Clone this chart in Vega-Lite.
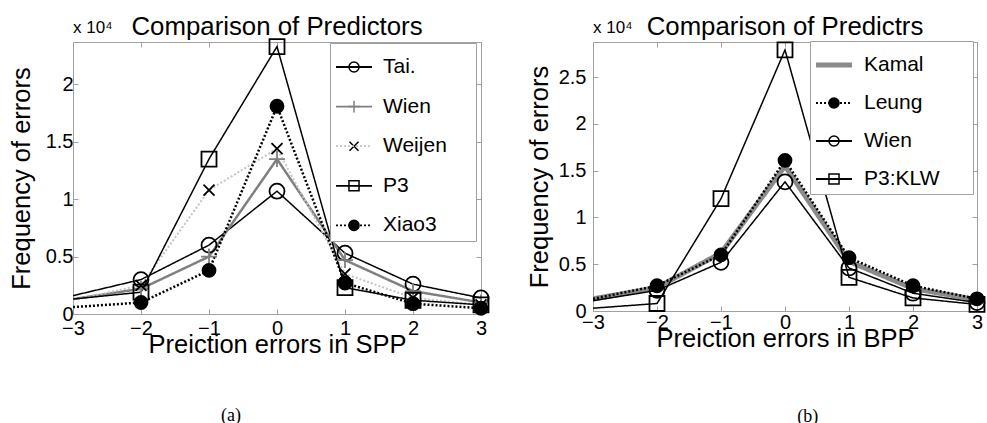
{
  "$schema": "https://vega.github.io/schema/vega-lite/v6.json",
  "padding": {"left": 8, "top": 2, "right": 3, "bottom": 0},
  "background": "white",
  "spacing": 32,
  "resolve": {
    "scale": {"color": "independent", "strokeDash": "independent", "strokeWidth": "independent", "shape": "independent", "stroke": "independent", "fill": "independent", "size": "independent"},
    "legend": {"color": "independent", "strokeDash": "independent", "strokeWidth": "independent", "shape": "independent", "stroke": "independent", "fill": "independent", "size": "independent"}
  },
  "config": {
    "font": "Liberation Sans",
    "view": {"stroke": "#a0a0a0", "strokeWidth": 1},
    "axis": {
      "labelFont": "Liberation Sans", "labelFontSize": 20, "labelColor": "black",
      "titleFont": "Liberation Sans", "titleFontSize": 25.5, "titleFontWeight": "normal", "titleColor": "black",
      "domain": false, "grid": false, "tickColor": "#a0a0a0", "tickSize": -5, "tickWidth": 1
    },
    "title": {"font": "Liberation Sans", "fontSize": 25.8, "fontWeight": "normal", "color": "black"}
  },
  "hconcat": [
    {
      "title": {"text": "(a)", "orient": "bottom", "anchor": "middle", "font": "Liberation Serif", "fontSize": 18, "fontWeight": "normal", "offset": 49, "dx": -20},
      "vconcat": [
        {
          "width": 408, "height": 272,
          "title": {"text": ["", "Comparison of Predictors"], "lineHeight": 11, "anchor": "middle", "offset": -21.5},
          "data": {"values": [
            {"x": -3, "y": 1600, "s": "Tai."}, {"x": -2, "y": 3000, "s": "Tai."}, {"x": -1, "y": 6000, "s": "Tai."}, {"x": 0, "y": 10700, "s": "Tai."}, {"x": 1, "y": 5300, "s": "Tai."}, {"x": 2, "y": 2600, "s": "Tai."}, {"x": 3, "y": 1400, "s": "Tai."},
            {"x": -3, "y": 1300, "s": "Wien"}, {"x": -2, "y": 2200, "s": "Wien"}, {"x": -1, "y": 5000, "s": "Wien"}, {"x": 0, "y": 13500, "s": "Wien"}, {"x": 1, "y": 4700, "s": "Wien"}, {"x": 2, "y": 2000, "s": "Wien"}, {"x": 3, "y": 1000, "s": "Wien"},
            {"x": -3, "y": 1200, "s": "Weijen"}, {"x": -2, "y": 2500, "s": "Weijen"}, {"x": -1, "y": 10800, "s": "Weijen"}, {"x": 0, "y": 14400, "s": "Weijen"}, {"x": 1, "y": 3500, "s": "Weijen"}, {"x": 2, "y": 1400, "s": "Weijen"}, {"x": 3, "y": 800, "s": "Weijen"},
            {"x": -3, "y": 1300, "s": "P3"}, {"x": -2, "y": 1900, "s": "P3"}, {"x": -1, "y": 13500, "s": "P3"}, {"x": 0, "y": 23300, "s": "P3"}, {"x": 1, "y": 2300, "s": "P3"}, {"x": 2, "y": 1200, "s": "P3"}, {"x": 3, "y": 800, "s": "P3"},
            {"x": -3, "y": 600, "s": "Xiao3"}, {"x": -2, "y": 1000, "s": "Xiao3"}, {"x": -1, "y": 3800, "s": "Xiao3"}, {"x": 0, "y": 18100, "s": "Xiao3"}, {"x": 1, "y": 2700, "s": "Xiao3"}, {"x": 2, "y": 900, "s": "Xiao3"}, {"x": 3, "y": 500, "s": "Xiao3"}
          ]},
          "layer": [
            {
              "mark": {"type": "line", "strokeCap": "butt", "clip": true},
              "encoding": {
                "x": {"field": "x", "type": "quantitative", "scale": {"domain": [-3, 3], "nice": false},
                      "axis": {"orient": "bottom", "values": [-3, -2, -1, 0, 1, 2, 3], "title": "Preiction errors in SPP", "labelPadding": 9, "titlePadding": -6, "labelFlush": false}},
                "y": {"field": "y", "type": "quantitative", "scale": {"domain": [0, 23700], "nice": false},
                      "axis": {"orient": "left", "values": [0, 5000, 10000, 15000, 20000], "labelExpr": "datum.value / 10000", "title": "Frequency of errors", "labelPadding": 5, "titlePadding": 11, "labelFlush": false}},
                "color": {"field": "s", "type": "nominal", "sort": null,
                          "scale": {"type": "ordinal", "range": ["black", "#808080", "#c4c4c4", "black", "black"]},
                          "legend": {"orient": "none", "legendX": 257, "legendY": 1, "zindex": 1, "title": null,
                                     "padding": 5, "rowPadding": 10.6, "symbolType": "stroke", "symbolSize": 1296, "symbolStrokeWidth": 1.8, "labelOffset": 10,
                                     "labelFont": "Liberation Sans", "labelFontSize": 21, "labelColor": "black"}},
                "strokeDash": {"field": "s", "type": "nominal", "sort": null, "scale": {"type": "ordinal", "range": [[1, 0], [1, 0], [2, 2], [1, 0], [2, 2]]}},
                "strokeWidth": {"field": "s", "type": "nominal", "scale": {"type": "ordinal", "domain": ["Xiao3", "P3", "Weijen", "Wien", "Tai."], "range": [2.5, 1.5, 2, 2.5, 1.5]}, "legend": null}
              }
            },
            {
              "transform": [{"filter": "datum.x > -3"}],
              "mark": {"type": "point", "filled": true, "opacity": 1, "strokeWidth": 1.8},
              "encoding": {
                "x": {"field": "x", "type": "quantitative", "axis": {"orient": "top", "values": [-3, -2, -1, 0, 1, 2, 3], "labels": false, "title": null}},
                "y": {"field": "y", "type": "quantitative", "axis": {"orient": "right", "values": [0, 5000, 10000, 15000, 20000], "labels": false, "title": null}},
                "shape": {"field": "s", "type": "nominal",
                          "scale": {"domain": ["Tai.", "Wien", "Weijen", "P3", "Xiao3"],
                                    "range": ["M0.28,0A0.28,0.28,0,1,1,-0.28,0A0.28,0.28,0,1,1,0.28,0Z", "M-0.33,0H0.33M0,-0.33V0.33", "M-0.25,-0.25L0.25,0.25M0.25,-0.25L-0.25,0.25", "M-0.28,-0.28H0.28V0.28H-0.28Z", "M0.28,0A0.28,0.28,0,1,1,-0.28,0A0.28,0.28,0,1,1,0.28,0Z"]},
                          "legend": {"orient": "none", "legendX": 257, "legendY": 1, "zindex": 0, "title": null, "fillColor": "white", "strokeColor": "#a0a0a0",
                                     "padding": 5, "rowPadding": 10.6, "symbolSize": 1296, "labelOffset": 10,
                                     "labelFont": "Liberation Sans", "labelFontSize": 21, "labelOpacity": 0, "labelExpr": "datum.label + 'nn'"}},
                "stroke": {"field": "s", "type": "nominal", "scale": {"domain": ["Tai.", "Wien", "Weijen", "P3", "Xiao3"], "range": ["black", "#808080", "black", "black", "black"]},
                           "legend": {"orient": "none", "legendX": 257, "legendY": 1, "zindex": 0, "title": null, "fillColor": "white", "strokeColor": "#a0a0a0",
                                     "padding": 5, "rowPadding": 10.6, "symbolSize": 1296, "labelOffset": 10,
                                     "labelFont": "Liberation Sans", "labelFontSize": 21, "labelOpacity": 0, "labelExpr": "datum.label + 'nn'"}},
                "fill": {"field": "s", "type": "nominal", "scale": {"domain": ["Tai.", "Wien", "Weijen", "P3", "Xiao3"], "range": ["transparent", "transparent", "transparent", "transparent", "black"]},
                           "legend": {"orient": "none", "legendX": 257, "legendY": 1, "zindex": 0, "title": null, "fillColor": "white", "strokeColor": "#a0a0a0",
                                     "padding": 5, "rowPadding": 10.6, "symbolSize": 1296, "labelOffset": 10,
                                     "labelFont": "Liberation Sans", "labelFontSize": 21, "labelOpacity": 0, "labelExpr": "datum.label + 'nn'"}},
                "size": {"field": "s", "type": "nominal", "scale": {"type": "ordinal", "domain": ["Xiao3", "P3", "Weijen", "Wien", "Tai."], "range": [2156, 2870, 1936, 2351, 2870]}, "legend": null}
              }
            },
            {
              "data": {"values": [{"t": "x 10⁴"}]},
              "mark": {"type": "text", "align": "left", "baseline": "bottom", "dy": -5, "fontSize": 17, "font": "Liberation Sans", "color": "black"},
              "encoding": {
                "text": {"field": "t"},
                "x": {"datum": -3, "type": "quantitative", "axis": null},
                "y": {"datum": 23700, "type": "quantitative", "axis": null}
              }
            }
          ],
          "resolve": {"axis": {"x": "independent", "y": "independent"}}
        }
      ]
    },
    {
      "title": {"text": "(b)", "orient": "bottom", "anchor": "middle", "font": "Liberation Serif", "fontSize": 18, "fontWeight": "normal", "offset": 55.5, "dx": 50},
      "vconcat": [
        {
          "width": 384, "height": 269,
          "title": {"text": "Comparison of Predictrs", "anchor": "middle", "offset": -21.5},
          "data": {"values": [
            {"x": -3, "y": 1300, "s": "Kamal"}, {"x": -2, "y": 2500, "s": "Kamal"}, {"x": -1, "y": 6200, "s": "Kamal"}, {"x": 0, "y": 15500, "s": "Kamal"}, {"x": 1, "y": 5300, "s": "Kamal"}, {"x": 2, "y": 2400, "s": "Kamal"}, {"x": 3, "y": 1200, "s": "Kamal"},
            {"x": -3, "y": 1300, "s": "Leung"}, {"x": -2, "y": 2700, "s": "Leung"}, {"x": -1, "y": 6000, "s": "Leung"}, {"x": 0, "y": 16100, "s": "Leung"}, {"x": 1, "y": 5700, "s": "Leung"}, {"x": 2, "y": 2700, "s": "Leung"}, {"x": 3, "y": 1300, "s": "Leung"},
            {"x": -3, "y": 1100, "s": "Wien"}, {"x": -2, "y": 2200, "s": "Wien"}, {"x": -1, "y": 5200, "s": "Wien"}, {"x": 0, "y": 13800, "s": "Wien"}, {"x": 1, "y": 4600, "s": "Wien"}, {"x": 2, "y": 1900, "s": "Wien"}, {"x": 3, "y": 900, "s": "Wien"},
            {"x": -3, "y": 300, "s": "P3:KLW"}, {"x": -2, "y": 800, "s": "P3:KLW"}, {"x": -1, "y": 12000, "s": "P3:KLW"}, {"x": 0, "y": 27900, "s": "P3:KLW"}, {"x": 1, "y": 3600, "s": "P3:KLW"}, {"x": 2, "y": 1400, "s": "P3:KLW"}, {"x": 3, "y": 700, "s": "P3:KLW"}
          ]},
          "layer": [
            {
              "mark": {"type": "line", "strokeCap": "butt", "clip": true},
              "encoding": {
                "x": {"field": "x", "type": "quantitative", "scale": {"domain": [-3, 3], "nice": false},
                      "axis": {"orient": "bottom", "values": [-3, -2, -1, 0, 1, 2, 3], "title": "Preiction errors in BPP", "labelPadding": 6.5, "titlePadding": -6, "labelFlush": false}},
                "y": {"field": "y", "type": "quantitative", "scale": {"domain": [0, 28750], "nice": false},
                      "axis": {"orient": "left", "values": [0, 5000, 10000, 15000, 20000, 25000], "labelExpr": "datum.value / 10000", "title": "Frequency of errors", "labelPadding": 12, "titlePadding": 6, "labelFlush": false}},
                "color": {"field": "s", "type": "nominal", "sort": null,
                          "scale": {"type": "ordinal", "range": ["#8a8a8a", "black", "black", "black"]},
                          "legend": {"orient": "none", "legendX": 217, "legendY": -1, "zindex": 1, "title": null,
                                     "padding": 5, "rowPadding": 9, "symbolType": "stroke", "symbolSize": 1296, "symbolStrokeWidth": 1.8, "labelOffset": 11,
                                     "labelFont": "Liberation Sans", "labelFontSize": 21, "labelColor": "black"}},
                "strokeDash": {"field": "s", "type": "nominal", "sort": null, "scale": {"type": "ordinal", "range": [[1, 0], [2, 2], [1, 0], [1, 0]]}},
                "strokeWidth": {"field": "s", "type": "nominal", "scale": {"type": "ordinal", "domain": ["P3:KLW", "Wien", "Leung", "Kamal"], "range": [1.5, 1.5, 2.5, 5]}, "legend": null}
              }
            },
            {
              "transform": [{"filter": "datum.x > -3 && datum.s !== 'Kamal'"}],
              "mark": {"type": "point", "filled": true, "opacity": 1, "strokeWidth": 1.8},
              "encoding": {
                "x": {"field": "x", "type": "quantitative", "axis": {"orient": "top", "values": [-3, -2, -1, 0, 1, 2, 3], "labels": false, "title": null}},
                "y": {"field": "y", "type": "quantitative", "axis": {"orient": "right", "values": [0, 5000, 10000, 15000, 20000, 25000], "labels": false, "title": null}},
                "shape": {"field": "s", "type": "nominal",
                          "scale": {"domain": ["Kamal", "Leung", "Wien", "P3:KLW"],
                                    "range": ["M-1,-0.14H1V0.14H-1Z", "M0.28,0A0.28,0.28,0,1,1,-0.28,0A0.28,0.28,0,1,1,0.28,0Z", "M0.28,0A0.28,0.28,0,1,1,-0.28,0A0.28,0.28,0,1,1,0.28,0Z", "M-0.28,-0.28H0.28V0.28H-0.28Z"]},
                          "legend": {"orient": "none", "legendX": 217, "legendY": -1, "zindex": 0, "title": null, "fillColor": "white", "strokeColor": "#a0a0a0",
                                     "padding": 5, "rowPadding": 9, "symbolSize": 1296, "labelOffset": 11,
                                     "labelFont": "Liberation Sans", "labelFontSize": 21, "labelOpacity": 0, "labelExpr": "datum.label + 'nni'"}},
                "stroke": {"field": "s", "type": "nominal", "scale": {"domain": ["Kamal", "Leung", "Wien", "P3:KLW"], "range": ["transparent", "black", "black", "black"]},
                           "legend": {"orient": "none", "legendX": 217, "legendY": -1, "zindex": 0, "title": null, "fillColor": "white", "strokeColor": "#a0a0a0",
                                     "padding": 5, "rowPadding": 9, "symbolSize": 1296, "labelOffset": 11,
                                     "labelFont": "Liberation Sans", "labelFontSize": 21, "labelOpacity": 0, "labelExpr": "datum.label + 'nni'"}},
                "fill": {"field": "s", "type": "nominal", "scale": {"domain": ["Kamal", "Leung", "Wien", "P3:KLW"], "range": ["#8a8a8a", "black", "transparent", "transparent"]},
                           "legend": {"orient": "none", "legendX": 217, "legendY": -1, "zindex": 0, "title": null, "fillColor": "white", "strokeColor": "#a0a0a0",
                                     "padding": 5, "rowPadding": 9, "symbolSize": 1296, "labelOffset": 11,
                                     "labelFont": "Liberation Sans", "labelFontSize": 21, "labelOpacity": 0, "labelExpr": "datum.label + 'nni'"}},
                "size": {"field": "s", "type": "nominal", "scale": {"type": "ordinal", "domain": ["P3:KLW", "Wien", "Leung", "Kamal"], "range": [2870, 2870, 2156, 1000]}, "legend": null}
              }
            },
            {
              "data": {"values": [{"t": "x 10⁴"}]},
              "mark": {"type": "text", "align": "left", "baseline": "bottom", "dy": -5, "fontSize": 17, "font": "Liberation Sans", "color": "black"},
              "encoding": {
                "text": {"field": "t"},
                "x": {"datum": -3, "type": "quantitative", "axis": null},
                "y": {"datum": 28750, "type": "quantitative", "axis": null}
              }
            }
          ],
          "resolve": {"axis": {"x": "independent", "y": "independent"}}
        }
      ]
    }
  ]
}
